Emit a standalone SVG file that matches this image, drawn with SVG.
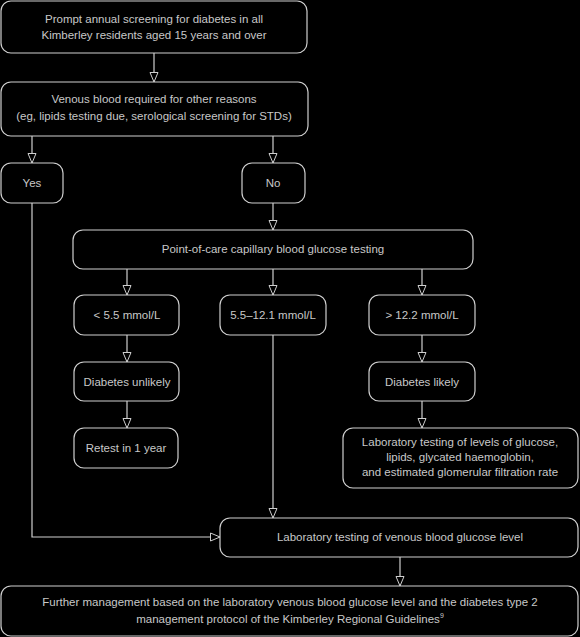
<svg xmlns="http://www.w3.org/2000/svg" width="580" height="637" viewBox="0 0 580 637">
<style>
.box{fill:#000;stroke:#cfcfcf;stroke-width:1.2}
.t{font-family:"Liberation Sans",Arial,sans-serif;font-size:11.5px;fill:#c8c8c8;text-anchor:middle;dominant-baseline:middle}
.c{fill:none;stroke:#cfcfcf;stroke-width:1.2}
</style>
<defs>
<marker id="ah" markerUnits="userSpaceOnUse" markerWidth="12" markerHeight="10" refX="10" refY="5" orient="auto">
<path d="M0.5,1 L10,5 L0.5,9 Z" fill="#000" stroke="#cfcfcf" stroke-width="1"/>
</marker>
</defs>
<rect width="580" height="637" fill="#000"/>
<g id="connectors">
<path class="c" d="M154,53 V82" marker-end="url(#ah)"/>
<path class="c" d="M32,136 V163" marker-end="url(#ah)"/>
<path class="c" d="M273,136 V163" marker-end="url(#ah)"/>
<path class="c" d="M273,203 V230" marker-end="url(#ah)"/>
<path class="c" d="M127,269 V295" marker-end="url(#ah)"/>
<path class="c" d="M273,269 V295" marker-end="url(#ah)"/>
<path class="c" d="M422,269 V295" marker-end="url(#ah)"/>
<path class="c" d="M127,335 V362" marker-end="url(#ah)"/>
<path class="c" d="M127,401 V428" marker-end="url(#ah)"/>
<path class="c" d="M422,335 V362" marker-end="url(#ah)"/>
<path class="c" d="M422,401 V428" marker-end="url(#ah)"/>
<path class="c" d="M273,335 V518" marker-end="url(#ah)"/>
<path class="c" d="M32,203 V537 H220" marker-end="url(#ah)"/>
<path class="c" d="M400,557 V586" marker-end="url(#ah)"/>
</g>
<g id="n1"><rect class="box" x="1" y="1" width="306" height="52" rx="10"/>
<text class="t" x="154" y="20">Prompt annual screening for diabetes in all</text>
<text class="t" x="154" y="36">Kimberley residents aged 15 years and over</text></g>
<g id="n2"><rect class="box" x="1" y="82" width="307" height="54" rx="10"/>
<text class="t" x="154" y="100">Venous blood required for other reasons</text>
<text class="t" x="154" y="117">(eg, lipids testing due, serological screening for STDs)</text></g>
<g id="yes"><rect class="box" x="1" y="163" width="62" height="40" rx="10"/>
<text class="t" x="32" y="184">Yes</text></g>
<g id="no"><rect class="box" x="242" y="163" width="63" height="40" rx="10"/>
<text class="t" x="273" y="184">No</text></g>
<g id="poc"><rect class="box" x="73" y="230" width="400" height="39" rx="10"/>
<text class="t" x="273" y="250">Point-of-care capillary blood glucose testing</text></g>
<g id="low"><rect class="box" x="74" y="295" width="105" height="40" rx="10"/>
<text class="t" x="127" y="316">&lt; 5.5 mmol/L</text></g>
<g id="mid"><rect class="box" x="220" y="295" width="106" height="40" rx="10"/>
<text class="t" x="273" y="316">5.5–12.1 mmol/L</text></g>
<g id="high"><rect class="box" x="369" y="295" width="106" height="40" rx="10"/>
<text class="t" x="422" y="316">&gt; 12.2 mmol/L</text></g>
<g id="unlikely"><rect class="box" x="74" y="362" width="105" height="39" rx="10"/>
<text class="t" x="127" y="383">Diabetes unlikely</text></g>
<g id="retest"><rect class="box" x="74" y="428" width="104" height="40" rx="10"/>
<text class="t" x="126" y="449">Retest in 1 year</text></g>
<g id="likely"><rect class="box" x="369" y="362" width="106" height="39" rx="10"/>
<text class="t" x="422" y="383">Diabetes likely</text></g>
<g id="lab"><rect class="box" x="343" y="428" width="235" height="60" rx="10"/>
<text class="t" x="460" y="443">Laboratory testing of levels of glucose,</text>
<text class="t" x="460" y="458">lipids, glycated haemoglobin,</text>
<text class="t" x="460" y="473">and estimated glomerular filtration rate</text></g>
<g id="venous"><rect class="box" x="220" y="518" width="358" height="39" rx="10"/>
<text class="t" x="400" y="538">Laboratory testing of venous blood glucose level</text></g>
<g id="final"><rect class="box" x="1" y="586" width="577" height="50" rx="10"/>
<text class="t" x="290" y="603">Further management based on the laboratory venous blood glucose level and the diabetes type 2</text>
<text class="t" x="290" y="620">management protocol of the Kimberley Regional Guidelines<tspan font-size="7" dy="-4">9</tspan></text></g>
</svg>
